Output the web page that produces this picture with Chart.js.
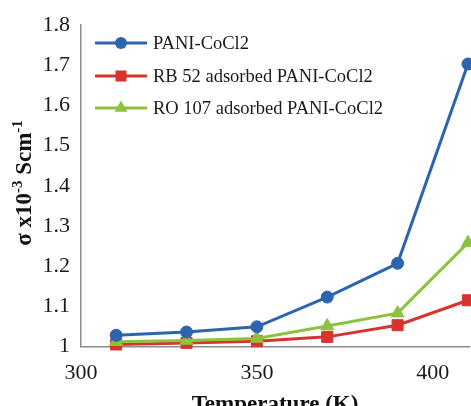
<!DOCTYPE html>
<html>
<head>
<meta charset="utf-8">
<script src="https://cdn.jsdelivr.net/npm/chart.js@4.4.0/dist/chart.umd.min.js"></script>
<style>
  html, body { margin: 0; padding: 0; background: #fff; }
  #wrap { width: 471px; height: 406px; }
</style>
</head>
<body>
<div id="wrap"><canvas id="chart" width="471" height="406"></canvas></div>
<script>
// temperatures (K)
const temps = [310, 330, 350, 370, 390, 410];
// conductivity x10^-3 S/cm
const pani = [1.028, 1.036, 1.049, 1.123, 1.207, 1.703];
const rb52 = [1.005, 1.009, 1.013, 1.024, 1.053, 1.115];
const ro107 = [1.012, 1.015, 1.020, 1.051, 1.083, 1.258];

const seriesNames = ['PANI-CoCl2', 'RB 52 adsorbed PANI-CoCl2', 'RO 107 adsorbed PANI-CoCl2'];
const xTicks = [300, 350, 400];
const yTicks = [1, 1.1, 1.2, 1.3, 1.4, 1.5, 1.6, 1.7, 1.8];
const yTickLabels = ['1', '1.1', '1.2', '1.3', '1.4', '1.5', '1.6', '1.7', '1.8'];

const BLUE = '#2c64ae';
const RED = '#d8332f';
const GREEN = '#8cc23e';
const SERIF = '"Liberation Serif", "Times New Roman", serif';

const toPoints = (ys) => temps.map((t, i) => ({ x: t, y: ys[i] }));

const datasets = [
  { label: seriesNames[0], data: toPoints(pani), borderColor: BLUE, backgroundColor: BLUE,
    pointStyle: 'circle', pointRadius: 6, order: 0 },
  { label: seriesNames[1], data: toPoints(rb52), borderColor: RED, backgroundColor: RED,
    pointStyle: 'rect', pointRadius: 7.8, order: 2 },
  { label: seriesNames[2], data: toPoints(ro107), borderColor: GREEN, backgroundColor: GREEN,
    pointStyle: 'triangle', pointRadius: 7.5, order: 1 }
].map(d => Object.assign(d, {
  borderWidth: 3, pointBorderWidth: 1, pointBorderColor: d.borderColor,
  pointHoverRadius: d.pointRadius, tension: 0, clip: false
}));

// legend line + marker drawn inside the plot, upper left
const legendInside = {
  id: 'legendInside',
  afterDraw(chart) {
    const ctx = chart.ctx;
    const rows = [43, 76, 108];
    ctx.save();
    ctx.font = '18.5px ' + SERIF;
    ctx.textBaseline = 'middle';
    chart.data.datasets.forEach((ds, i) => {
      const y = rows[i];
      ctx.strokeStyle = ds.borderColor;
      ctx.lineWidth = 3;
      ctx.beginPath();
      ctx.moveTo(95, y);
      ctx.lineTo(147, y);
      ctx.stroke();
      ctx.fillStyle = ds.backgroundColor;
      const cx = 121, r = ds.pointRadius;
      ctx.beginPath();
      if (ds.pointStyle === 'circle') {
        ctx.arc(cx, y, r, 0, Math.PI * 2);
      } else if (ds.pointStyle === 'rect') {
        const s = r * Math.SQRT1_2;
        ctx.rect(cx - s, y - s, 2 * s, 2 * s);
      } else {
        ctx.moveTo(cx, y - r);
        ctx.lineTo(cx + r * Math.sin(Math.PI * 2 / 3), y - r * Math.cos(Math.PI * 2 / 3));
        ctx.lineTo(cx - r * Math.sin(Math.PI * 2 / 3), y - r * Math.cos(Math.PI * 2 / 3));
        ctx.closePath();
      }
      ctx.fill();
      ctx.fillStyle = '#1a1a1a';
      ctx.fillText(ds.label, 153, y + 1);
    });
    ctx.restore();
  }
};

// axis titles (y title has superscripts)
const axisTitles = {
  id: 'axisTitles',
  afterDraw(chart) {
    const ctx = chart.ctx;
    ctx.save();
    ctx.fillStyle = '#111';
    ctx.font = 'bold 23px ' + SERIF;
    ctx.textAlign = 'center';
    ctx.textBaseline = 'alphabetic';
    ctx.fillText('Temperature (K)', 275, 411);

    const parts = [
      { t: 'σ x10', sup: false }, { t: '-3', sup: true },
      { t: ' Scm', sup: false }, { t: '-1', sup: true }
    ];
    const big = 'bold 23px ' + SERIF, small = 'bold 15px ' + SERIF;
    let w = 0;
    parts.forEach(p => { ctx.font = p.sup ? small : big; p.w = ctx.measureText(p.t).width; w += p.w; });
    ctx.translate(31, 183 + w / 2);
    ctx.rotate(-Math.PI / 2);
    ctx.textAlign = 'left';
    let x = 0;
    parts.forEach(p => {
      ctx.font = p.sup ? small : big;
      ctx.fillText(p.t, x, p.sup ? -9 : 0);
      x += p.w;
    });
    ctx.restore();
  }
};

new Chart(document.getElementById('chart'), {
  type: 'line',
  data: { datasets },
  options: {
    responsive: false,
    animation: false,
    devicePixelRatio: 1,
    layout: { autoPadding: false, padding: { top: 25, right: 2, left: 0, bottom: 0 } },
    plugins: { legend: { display: false }, tooltip: { enabled: false }, title: { display: false } },
    scales: {
      x: {
        type: 'linear',
        min: 300,
        max: 410.3,
        afterBuildTicks: (s) => { s.ticks = xTicks.map(v => ({ value: v })); },
        afterFit: (s) => { s.height = 59.5; s.paddingLeft = 0; s.paddingRight = 0; },
        grid: { display: false, drawTicks: false },
        border: { display: true, color: '#8c8c8c', width: 1.5 },
        ticks: { font: { family: SERIF, size: 22 }, color: '#1a1a1a', padding: 13.5, maxRotation: 0 }
      },
      y: {
        type: 'linear',
        min: 1,
        max: 1.8,
        afterBuildTicks: (s) => { s.ticks = yTicks.map(v => ({ value: v })); },
        afterFit: (s) => { s.width = 81; s.paddingTop = 0; s.paddingBottom = 0; },
        grid: { display: false, drawTicks: false },
        border: { display: true, color: '#8c8c8c', width: 1.5 },
        ticks: {
          font: { family: SERIF, size: 22 }, color: '#1a1a1a', padding: 11,
          callback: (v) => { const i = yTicks.indexOf(v); return i >= 0 ? yTickLabels[i] : ''; }
        }
      }
    }
  },
  plugins: [legendInside, axisTitles]
});
</script>
</body>
</html>
